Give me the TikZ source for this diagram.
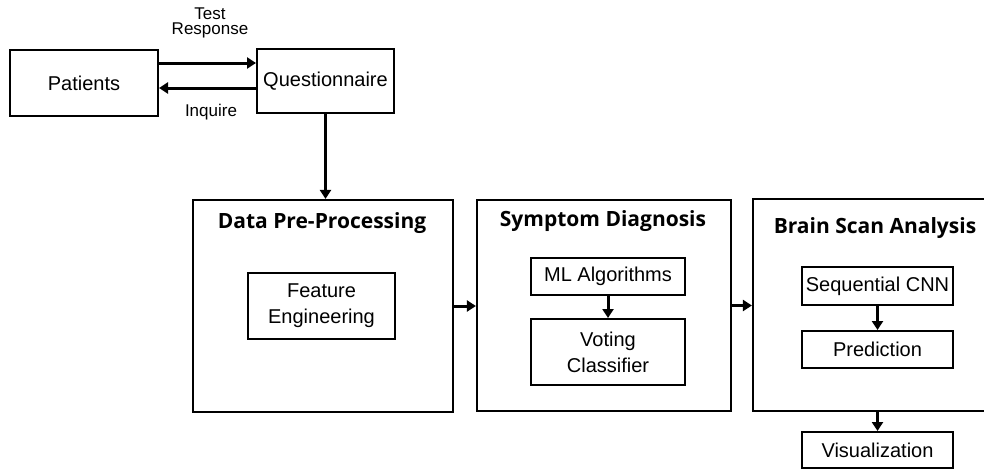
\documentclass[tikz,border=0pt]{standalone}
\usepackage{fontspec}
\setmainfont{Liberation Sans}
\newfontfamily\headfont{Open Sans}
\usepackage{tikz}
\usetikzlibrary{arrows.meta}

\begin{document}
\begin{tikzpicture}[x=1pt, y=-1pt,
        box/.style={draw, line width=2pt, inner sep=0pt, align=center,
                    font=\fontsize{20}{26}\selectfont},
        bigbox/.style={draw, line width=2.2pt, inner sep=0pt},
        head/.style={font=\headfont\bfseries\fontsize{21}{24}\selectfont},
        small/.style={align=center, font=\fontsize{17}{15.5}\selectfont},
        arr/.style={-{Triangle[length=9pt, width=11pt]}, line width=3pt}]
            \clip (0,0) rectangle (984,471);
            \fill[white] (0,0) rectangle (984,471);

            % top row
            \node[box, minimum width=148pt, minimum height=66pt] at (84, 83)   (patients) {Patients};
            \node[box, minimum width=137pt, minimum height=64pt] at (325.5, 81) (quest) {Questionnaire};
            \node[small] at (210, 23)  (resp) {Test\\Response};
            \node[small] at (211, 112) (inq) {Inquire};

            % main stages
            \node[bigbox, minimum width=260pt, minimum height=212pt] at (323, 306)   (prep) {};
            \node[bigbox, minimum width=254pt, minimum height=211pt] at (604, 305.5) (diag) {};
            \node[bigbox, minimum width=260pt, minimum height=212pt] at (883, 305)   (brain) {};

            \node[head] at (322, 223) (prephead) {Data Pre-Processing};
            \node[head] at (603, 221) (diaghead) {Symptom Diagnosis};
            \node[head] at (875, 228) (brainhead) {Brain Scan Analysis};

            \node[box, minimum width=147pt, minimum height=66pt] at (321.5, 306) (feat) {Feature\\Engineering};
            \node[box, minimum width=154pt, minimum height=37pt] at (608, 276.5) (mlalg) {ML Algorithms};
            \node[box, minimum width=154pt, minimum height=66pt] at (608, 352)   (voting) {Voting\\Classifier};
            \node[box, minimum width=151pt, minimum height=38pt] at (877.5, 286)   (cnn) {Sequential CNN};
            \node[box, minimum width=151pt, minimum height=37pt] at (877.5, 349.5) (pred) {Prediction};
            \node[box, minimum width=151pt, minimum height=36pt] at (877.5, 450)   (vis) {Visualization};

            \draw [arr] ([yshift=20pt]patients.east) -- ([yshift=20pt]patients.east -| quest.west);
            \draw [arr] ([yshift=-7pt]quest.west) -- ([yshift=-7pt]quest.west -| patients.east);
            \draw [arr] (quest.south) -- (quest.south |- prep.north);
            \draw [arr] (prep.east) -- (prep.east -| diag.west);
            \draw [arr] (diag.east) -- (diag.east -| brain.west);
            \draw [arr] (mlalg.south) -- (voting.north);
            \draw [arr] (cnn.south) -- (pred.north);
            \draw [arr] (vis.north |- brain.south) -- (vis.north);
        \end{tikzpicture}
\end{document}
